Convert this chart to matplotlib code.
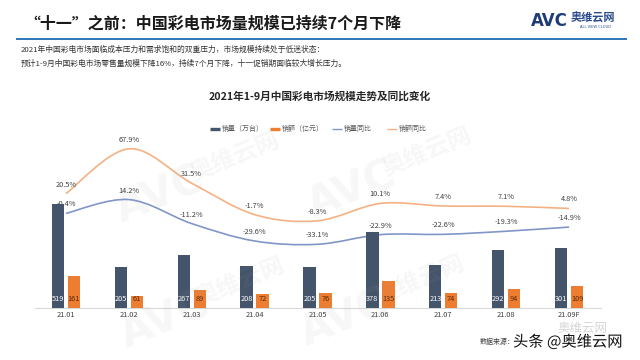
import matplotlib
matplotlib.use('Agg')
import matplotlib.pyplot as plt
from matplotlib.path import Path
from matplotlib.patches import PathPatch
from matplotlib.lines import Line2D
import matplotlib.patheffects as pe
import numpy as np

plt.rcParams['font.family'] = ['Noto Sans CJK SC', 'DejaVu Sans']

# ---------------- data ----------------
months = ['21.01', '21.02', '21.03', '21.04', '21.05', '21.06', '21.07', '21.08', '21.09F']
volume = [519, 205, 267, 208, 205, 378, 213, 292, 301]          # 销量（万台）
value = [161, 61, 89, 72, 76, 135, 74, 94, 109]                 # 销额（亿元）
volume_yoy = [-0.4, 14.2, -11.2, -29.6, -33.1, -22.9, -22.6, -19.3, -14.9]  # 销量同比 %
value_yoy = [20.5, 67.9, 31.5, -1.7, -8.3, 10.1, 7.4, 7.1, 4.8]            # 销额同比 %

legend_labels = ['销量（万台）', '销额（亿元）', '销量同比', '销额同比']

C_VOL = '#44546a'
C_VAL = '#ed7d31'
C_VOLYOY = '#8196c8'
C_VALYOY = '#f4b183'

W, H = 640, 360
fig = plt.figure(figsize=(6.4, 3.6), dpi=100)
fig.patch.set_facecolor('white')


def fx(px):
    return px / W


def fy(py):
    return 1 - py / H


# ---------------- header ----------------
fig.text(fx(24), fy(24), '“十一”之前：中国彩电市场量规模已持续7个月下降',
         fontsize=11.5, fontweight='bold', color='#1a1a1a', ha='left', va='center')
fig.add_artist(Line2D([fx(17), fx(626)], [fy(39), fy(39)], transform=fig.transFigure,
                      color='#2e75b6', lw=1.4))
fig.text(fx(21), fy(50), '2021年中国彩电市场面临成本压力和需求饱和的双重压力，市场规模持续处于低迷状态：',
         fontsize=5.6, color='#333333', ha='left', va='center')
fig.text(fx(21), fy(64), '预计1-9月中国彩电市场零售量规模下降16%，持续7个月下降，十一促销期面临较大增长压力。',
         fontsize=5.6, color='#333333', ha='left', va='center')

# logo
fig.text(fx(531), fy(21), 'AVC', fontsize=12, fontweight='bold', color='#1e3c78',
         ha='left', va='center', family='DejaVu Sans')
fig.text(fx(571), fy(18), '奥维云网', fontsize=8, fontweight='bold', color='#2a4a8a',
         ha='left', va='center')
fig.text(fx(596), fy(27), 'ALL VIEW CLOUD', fontsize=2.6, color='#2a4a8a',
         ha='center', va='center', family='DejaVu Sans')

# chart title
fig.text(fx(320), fy(96), '2021年1-9月中国彩电市场规模走势及同比变化',
         fontsize=7.7, fontweight='bold', color='#262626', ha='center', va='center')

# legend (manual)
leg_y = fy(129)
items = [(210, C_VOL, 2.4, legend_labels[0]), (270, C_VAL, 2.4, legend_labels[1]),
         (332, C_VOLYOY, 1.0, legend_labels[2]), (387, C_VALYOY, 1.0, legend_labels[3])]
for px0, col, lw, lab in items:
    fig.add_artist(Line2D([fx(px0), fx(px0 + 10)], [leg_y, leg_y], transform=fig.transFigure,
                          color=col, lw=lw, solid_capstyle='butt'))
    fig.text(fx(px0 + 11.5), leg_y, lab, fontsize=5, color='#595959', ha='left', va='center')

# ---------------- main axes ----------------
ax = fig.add_axes([34.5 / W, 1 - 308 / H, 566 / W, 178 / H])
ax2 = ax.twinx()
ax.set_zorder(2)
ax2.set_zorder(1)
ax.patch.set_visible(False)

x = np.arange(len(months))
bw = 0.196
off = 0.127
ax.bar(x - off, volume, bw, color=C_VOL, zorder=3)
ax.bar(x + off, value, bw, color=C_VAL, zorder=3)
for xi, v in zip(x, volume):
    ax.annotate(str(v), (xi - off, 0), xytext=(0, 6.3), textcoords='offset points',
                ha='center', va='center', fontsize=5.3, color='white', zorder=4)
for xi, v in zip(x, value):
    ax.annotate(str(v), (xi + off, 0), xytext=(0, 6.3), textcoords='offset points',
                ha='center', va='center', fontsize=5.3, color='#5a2a08', zorder=4)

ax.set_xlim(-0.5, len(months) - 0.5)
ax.set_ylim(0, 890)
for s in ['top', 'right', 'left']:
    ax.spines[s].set_visible(False)
ax.spines['bottom'].set_color('#d9d9d9')
ax.spines['bottom'].set_linewidth(0.8)
ax.set_yticks([])
ax.set_xticks(x)
ax.set_xticklabels(months, fontsize=5.3, color='#404040')
ax.tick_params(axis='x', length=0, pad=2.5)


def smooth_path(xs, ys):
    pts = np.column_stack([xs, ys]).astype(float)
    n = len(pts)
    verts = [pts[0]]
    codes = [Path.MOVETO]
    for i in range(n - 1):
        p_prev = pts[i - 1] if i > 0 else pts[i]
        p_next2 = pts[i + 2] if i + 2 < n else pts[i + 1]
        c1 = pts[i] + (pts[i + 1] - p_prev) / 6.0
        c2 = pts[i + 1] - (p_next2 - pts[i]) / 6.0
        verts += [c1, c2, pts[i + 1]]
        codes += [Path.CURVE4] * 3
    return Path(verts, codes)


ax2.set_xlim(-0.5, len(months) - 0.5)
ax2.set_ylim(-100.5, 87.8)
ax2.set_axis_off()
ax2.add_patch(PathPatch(smooth_path(x, value_yoy), fill=False, edgecolor=C_VALYOY, lw=1.2))
ax2.add_patch(PathPatch(smooth_path(x, volume_yoy), fill=False, edgecolor=C_VOLYOY, lw=1.2))
for xi, v in zip(x, value_yoy):
    ax2.annotate(f'{v:.1f}%', (xi, v), xytext=(0, 6.5), textcoords='offset points',
                 ha='center', va='center', fontsize=5.3, color='#404040')
for xi, v in zip(x, volume_yoy):
    ax2.annotate(f'{v:.1f}%', (xi, v), xytext=(0, 6.5), textcoords='offset points',
                 ha='center', va='center', fontsize=5.3, color='#404040')

# ---------------- watermarks ----------------
def watermark(px, py):
    fig.text(fx(px), fy(py), 'AVC', fontsize=30, fontweight='bold', color='#a0a0a0',
             alpha=0.08, rotation=22, ha='center', va='center', family='DejaVu Sans', zorder=10)
    fig.text(fx(px + 75), fy(py - 38), '奥维云网', fontsize=17, fontweight='bold', color='#a0a0a0',
             alpha=0.08, rotation=22, ha='center', va='center', zorder=10)

watermark(160, 195)
watermark(352, 190)
watermark(165, 320)
watermark(345, 318)

# ---------------- footer ----------------
fig.text(fx(558), fy(328), '奥维云网', fontsize=9, color='#d6d6d6', ha='left', va='center')
fig.text(fx(480), fy(342), '数据来源：', fontsize=5, color='#404040', ha='left', va='center')
fig.text(fx(513), fy(342), '头条 @奥维云网', fontsize=11, color='#111111', ha='left', va='center',
         path_effects=[pe.withStroke(linewidth=2, foreground='white')])

fig.savefig('out.png', dpi=100, facecolor='white')
